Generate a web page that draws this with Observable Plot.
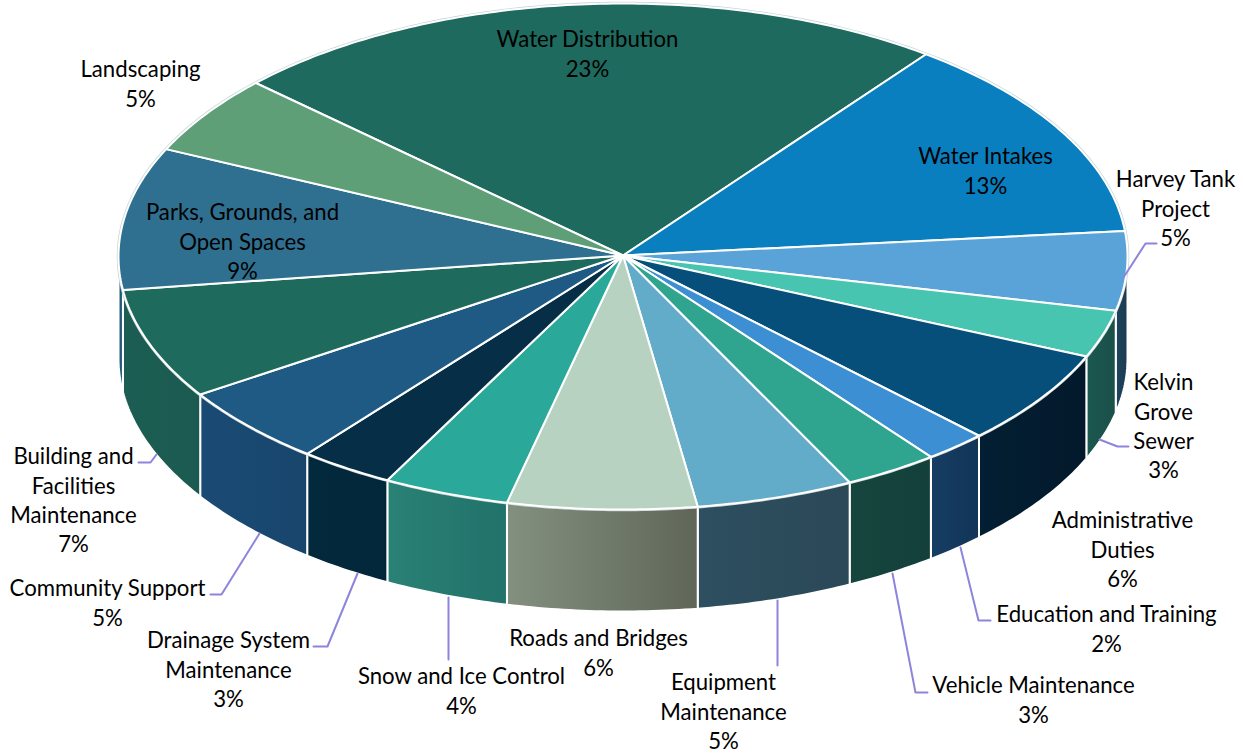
<!DOCTYPE html>
<html>
<head>
<meta charset="utf-8">
<script src="https://cdn.jsdelivr.net/npm/d3@7"></script>
<script src="https://cdn.jsdelivr.net/npm/@observablehq/plot@0.6"></script>
<style>
  html, body { margin: 0; padding: 0; background: #fff; }
  svg { display: block; }
</style>
</head>
<body>
<div id="chart"></div>
<script>
// Budget share by program, clockwise from the top of the disc.
const programs = [
  "Water Distribution", "Water Intakes", "Harvey Tank Project", "Kelvin Grove Sewer",
  "Administrative Duties", "Education and Training", "Vehicle Maintenance",
  "Equipment Maintenance", "Roads and Bridges", "Snow and Ice Control",
  "Drainage System Maintenance", "Community Support",
  "Building and Facilities Maintenance", "Parks, Grounds, and Open Spaces", "Landscaping"
];
const percents = [23, 13, 5, 3, 6, 2, 3, 5, 6, 4, 3, 5, 7, 9, 5];

const topColors = [
  "#1f6a5e", "#0a7fbf", "#5aa3d8", "#47c5b0", "#064f7a", "#3b8fd2", "#2fa58f",
  "#62abc9", "#b7d2c1", "#2aa99a", "#062f47", "#1f5a85", "#1e6a5c", "#2f7090", "#5f9f77"
];
const wallStart = [
  "#1f6a5e", "#0a7fbf", "#1d4560", "#1a5850", "#031f33", "#163d63", "#15463e",
  "#2d4f60", "#83907f", "#2a8175", "#03293d", "#1a4b74", "#1c5e53", "#205f7a", "#5f9f77"
];
const wallEnd = [
  "#1f6a5e", "#0a7fbf", "#1f3a50", "#1a5048", "#03192b", "#123558", "#143f3a",
  "#2b4857", "#5f6658", "#21726a", "#03273a", "#18456c", "#1b5a50", "#1c5a73", "#5f9f77"
];

// Line-broken captions with their centre and first-line height on the page.
const captions = [
  ["Water Distribution\n23%", 587, 39], ["Water Intakes\n13%", 985, 156],
  ["Harvey Tank\nProject\n5%", 1175, 179], ["Kelvin\nGrove\nSewer\n3%", 1163, 382],
  ["Administrative\nDuties\n6%", 1122, 520], ["Education and Training\n2%", 1106, 614],
  ["Vehicle Maintenance\n3%", 1033, 685], ["Equipment\nMaintenance\n5%", 723, 682],
  ["Roads and Bridges\n6%", 598, 638], ["Snow and Ice Control\n4%", 461, 676],
  ["Drainage System\nMaintenance\n3%", 228, 640], ["Community Support\n5%", 107, 588],
  ["Building and\nFacilities\nMaintenance\n7%", 73, 456],
  ["Parks, Grounds, and\nOpen Spaces\n9%", 242, 212], ["Landscaping\n5%", 140, 69]
];

// Leader lines joining outside captions to the rim of their slice.
const leaders = [
  [[1123, 277], [1145, 243], [1156, 243]],
  [[1099, 439], [1117, 446], [1128, 446]],
  [[960, 547], [978, 620], [990, 620]],
  [[892, 573], [915, 692], [927, 692]],
  [[777, 600], [777, 665]],
  [[448, 597], [448, 659]],
  [[357, 573], [327, 646], [313, 646]],
  [[259, 533], [221, 594], [210, 594]],
  [[156, 454], [150, 462], [138, 462]]
];

// Disc geometry on the page.
const cx = 622.5, cy = 256, rx = 504.5, ry = 253, depth = 102;
const startAngle = -46.7 * Math.PI / 180;
const rim = (a, drop = 0) => [cx + rx * Math.sin(a), cy - ry * Math.cos(a) + drop];
const arcAngles = (a0, a1) => {
  const n = Math.max(2, Math.ceil((a1 - a0) / (Math.PI / 240)));
  return d3.range(n + 1).map((i) => a0 + (a1 - a0) * i / n);
};

const arcs = d3.pie().sort(null).startAngle(startAngle).endAngle(startAngle + 2 * Math.PI)(percents);

const topPolygons = arcs.map((d) => [[cx, cy - 1], ...arcAngles(d.startAngle, d.endAngle).map((a) => rim(a))]);

// Only the front half of the disc shows a side wall.
const walls = arcs.flatMap((d, i) => {
  const a0 = Math.max(d.startAngle, Math.PI / 2), a1 = Math.min(d.endAngle, 3 * Math.PI / 2);
  if (a1 <= a0) return [];
  const angles = arcAngles(a0, a1);
  return [{i, points: [...angles.map((a) => rim(a)), ...angles.slice().reverse().map((a) => rim(a, depth))]}];
});

const gradients = () => {
  const defs = d3.create("svg:defs");
  walls.forEach(({i}) => {
    const g = defs.append("linearGradient").attr("id", `wall-${i}`);
    g.append("stop").attr("offset", "0%").attr("stop-color", wallStart[i]);
    g.append("stop").attr("offset", "100%").attr("stop-color", wallEnd[i]);
  });
  return defs.node();
};

const polygon = (points, fill, strokeWidth = 2) =>
  Plot.line(points, {x: "0", y: "1", fill, stroke: "white", strokeWidth, curve: "linear-closed", strokeLinejoin: "round"});

const chart = Plot.plot({
  width: 1243,
  height: 753,
  margin: 0,
  x: {domain: [0, 1243], range: [0, 1243], axis: null},
  y: {domain: [0, 753], range: [0, 753], axis: null},
  style: {background: "white", overflow: "visible"},
  marks: [
    gradients,
    ...walls.map(({i, points}) => polygon(points, `url(#wall-${i})`)),
    Plot.line(arcAngles(0, 2 * Math.PI).map((a) => rim(a)), {x: "0", y: "1", stroke: "#c9d6d8", strokeWidth: 3.5, curve: "linear-closed"}),
    ...topPolygons.map((points, i) => polygon(points, topColors[i])),
    ...leaders.map((points) => Plot.line(points, {x: "0", y: "1", stroke: "#8d85dc", strokeWidth: 2})),
    Plot.text(captions, {
      x: "1", y: "2", text: "0", lineAnchor: "top", textAnchor: "middle",
      dy: -13, lineHeight: 29.3 / 22.2,
      fontFamily: "Lato, sans-serif", fontSize: 22.2, fill: "#000"
    })
  ]
});
document.getElementById("chart").append(chart);
</script>
</body>
</html>
